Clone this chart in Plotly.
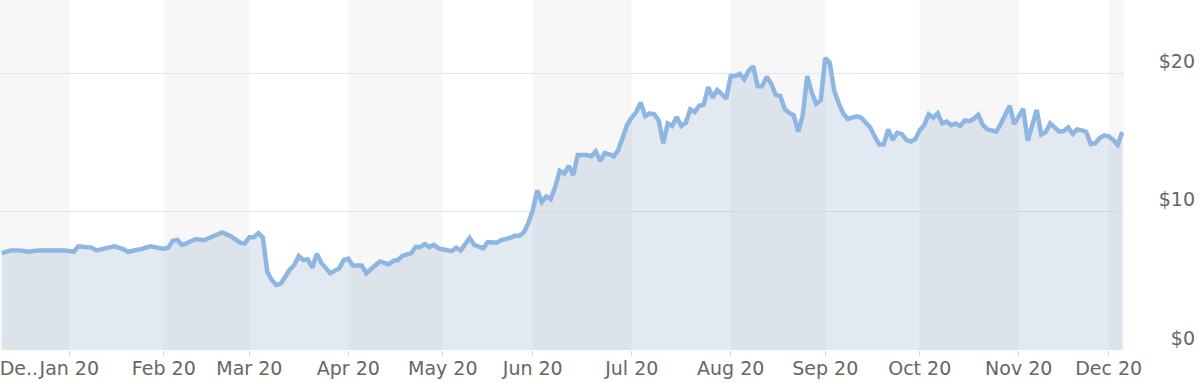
import plotly.graph_objects as go

# ---- data (trading-day index, closing price) ----
day = [0, 2, 4, 6, 8, 11, 14, 16, 17, 20, 21, 25, 27, 28, 30, 31, 33, 36, 37, 38,
       39, 40, 41, 43, 45, 47, 49, 51, 52, 53, 54, 55, 56, 57, 58, 59, 60, 61, 62, 64,
       65, 66, 67, 68, 69, 70, 71, 73, 75, 76, 77, 78, 80, 81, 84, 86, 87, 88, 89, 91,
       92, 93, 94, 95, 96, 97, 100, 101, 102, 104, 105, 107, 108, 110, 111, 112, 113, 114, 115, 116,
       117, 118, 119, 120, 121, 122, 123, 124, 125, 126, 127, 128, 130, 131, 132, 133, 134, 135, 136, 137,
       138, 139, 140, 141, 142, 143, 144, 145, 146, 147, 148, 149, 150, 151, 152, 153, 154, 155, 156, 157,
       158, 159, 160, 161, 162, 163, 164, 165, 166, 167, 168, 169, 170, 171, 172, 173, 174, 175, 176, 177,
       178, 179, 180, 181, 182, 183, 184, 185, 186, 187, 188, 190, 191, 192, 193, 194, 195, 196, 197, 198,
       199, 200, 201, 202, 203, 204, 205, 206, 207, 208, 209, 210, 211, 212, 213, 214, 215, 216, 217, 218,
       219, 220, 221, 222, 223, 224, 225, 226, 227, 228, 229, 230, 231, 232, 233, 234, 235, 236, 237, 238,
       239, 240, 241, 242, 243, 244, 245, 246, 247, 248, 249]

price = [7.0, 7.2, 7.2, 7.1, 7.2, 7.2, 7.2, 7.1, 7.5, 7.4, 7.2, 7.5, 7.3, 7.1, 7.2, 7.3, 7.5, 7.3, 7.4, 7.9,
         7.95, 7.6, 7.7, 8.0, 7.95, 8.2, 8.5, 8.2, 8.0, 7.75, 7.7, 8.15, 8.15, 8.45, 8.15, 5.65, 5.05, 4.7, 4.8, 5.8,
         6.15, 6.8, 6.5, 6.55, 5.95, 6.95, 6.3, 5.55, 5.9, 6.5, 6.6, 6.1, 6.1, 5.55, 6.4, 6.2, 6.45, 6.5, 6.8, 7.0,
         7.45, 7.45, 7.65, 7.45, 7.6, 7.35, 7.15, 7.4, 7.2, 8.1, 7.6, 7.35, 7.8, 7.75, 7.95, 8.0, 8.1, 8.25, 8.25, 8.5,
         9.15, 10.1, 11.55, 10.7, 11.1, 10.9, 11.8, 12.95, 12.75, 13.3, 12.65, 14.1, 14.1, 14.0, 14.35, 13.65, 14.25, 14.15, 14.0, 14.45,
         15.3, 16.3, 16.8, 17.2, 17.9, 16.9, 17.1, 17.04, 16.59, 14.94, 16.38, 16.2, 16.84, 16.2, 16.41, 17.4, 17.21, 17.65, 17.73, 19.0,
         18.24, 18.79, 18.49, 18.16, 19.8, 19.8, 19.96, 19.57, 20.19, 20.51, 19.07, 19.07, 19.75, 19.25, 18.44, 18.36, 17.43, 17.14, 16.96, 15.78,
         16.96, 19.8, 18.61, 17.8, 18.06, 21.1, 20.77, 18.74, 17.85, 17.09, 16.71, 16.89, 16.79, 16.41, 16.08, 15.44, 14.86, 14.86, 15.95, 15.19,
         15.7, 15.62, 15.19, 15.07, 15.24, 15.88, 16.25, 17.04, 16.79, 17.1, 16.38, 16.51, 16.25, 16.38, 16.2, 16.59, 16.54, 16.71, 17.01, 16.28,
         15.95, 15.88, 15.78, 16.33, 16.96, 17.65, 16.33, 16.96, 17.43, 15.14, 16.25, 17.35, 15.58, 15.75, 16.38, 16.08, 15.78, 15.83, 16.08, 15.62,
         15.95, 15.88, 15.78, 14.89, 14.94, 15.32, 15.52, 15.44, 15.19, 14.82, 15.75]

# first trading day of each month (index) and labels
month_start = [15, 36, 55, 77, 98, 118, 140, 162, 183, 204, 226, 246]
month_label = ["Jan 20", "Feb 20", "Mar 20", "Apr 20", "May 20", "Jun 20",
               "Jul 20", "Aug 20", "Sep 20", "Oct 20", "Nov 20", "Dec 20"]
first_label = "De.."
first_label_pos = 3.8
y_ticks = [0, 10, 20]
y_tick_labels = ["$0", "$10", "$20"]

X_RANGE = [-0.4, 249.4]
Y_RANGE = [0, 25.3]
DOMAIN = [0, 1124 / 1200]
FONT = dict(family="DejaVu Sans", size=19, color="#666666")

fig = go.Figure()
fig.add_trace(go.Scatter(
    x=day, y=price, mode="lines", fill="tozeroy",
    line=dict(color="#8eb6e2", width=4.5),
    fillcolor="rgba(143,167,199,0.25)",
    hoverinfo="skip", showlegend=False,
))
# helper invisible trace to anchor the label axis
fig.add_trace(go.Scatter(x=[X_RANGE[0]], y=[0], xaxis="x2", mode="none",
                         showlegend=False, hoverinfo="skip"))

# alternating month bands
bounds = [X_RANGE[0]] + month_start + [X_RANGE[1]]
shapes = []
for k in range(len(bounds) - 1):
    if k % 2 == 0:
        shapes.append(dict(type="rect", xref="x", yref="paper",
                           x0=bounds[k], x1=bounds[k + 1], y0=0, y1=1,
                           fillcolor="#f7f7f7", line=dict(width=0), layer="below"))

fig.update_layout(
    template="none",
    width=1200, height=383,
    margin=dict(l=0, r=0, t=0, b=33, pad=0),
    paper_bgcolor="white", plot_bgcolor="white",
    shapes=shapes,
    xaxis=dict(domain=DOMAIN, range=X_RANGE, tickvals=month_start,
               ticks="outside", ticklen=5, tickwidth=1, tickcolor="#ccd6eb",
               showticklabels=False, showgrid=False, zeroline=False,
               showline=False, automargin=False, fixedrange=True),
    xaxis2=dict(domain=DOMAIN, range=X_RANGE, overlaying="x", anchor="y",
                side="bottom", tickangle=0,
                tickvals=[first_label_pos] + month_start,
                ticktext=[first_label] + month_label,
                ticks="", showgrid=False, zeroline=False, showline=False,
                tickfont=FONT, automargin=False, ticklabelstandoff=5,
                ticklabeloverflow="allow"),
    yaxis=dict(range=Y_RANGE, tickvals=y_ticks, ticktext=y_tick_labels,
               anchor="free", position=1, side="left",
               showgrid=True, gridcolor="#e6e6e6", gridwidth=1,
               zeroline=False, showline=False, ticks="",
               tickfont=FONT, automargin=False,
               ticklabelshift=-12, ticklabelstandoff=5,
               ticklabeloverflow="allow"),
    showlegend=False,
)

fig.write_html("out.html", config={"displayModeBar": False},
               post_script="document.body.style.margin='0';document.body.style.overflow='hidden';")
